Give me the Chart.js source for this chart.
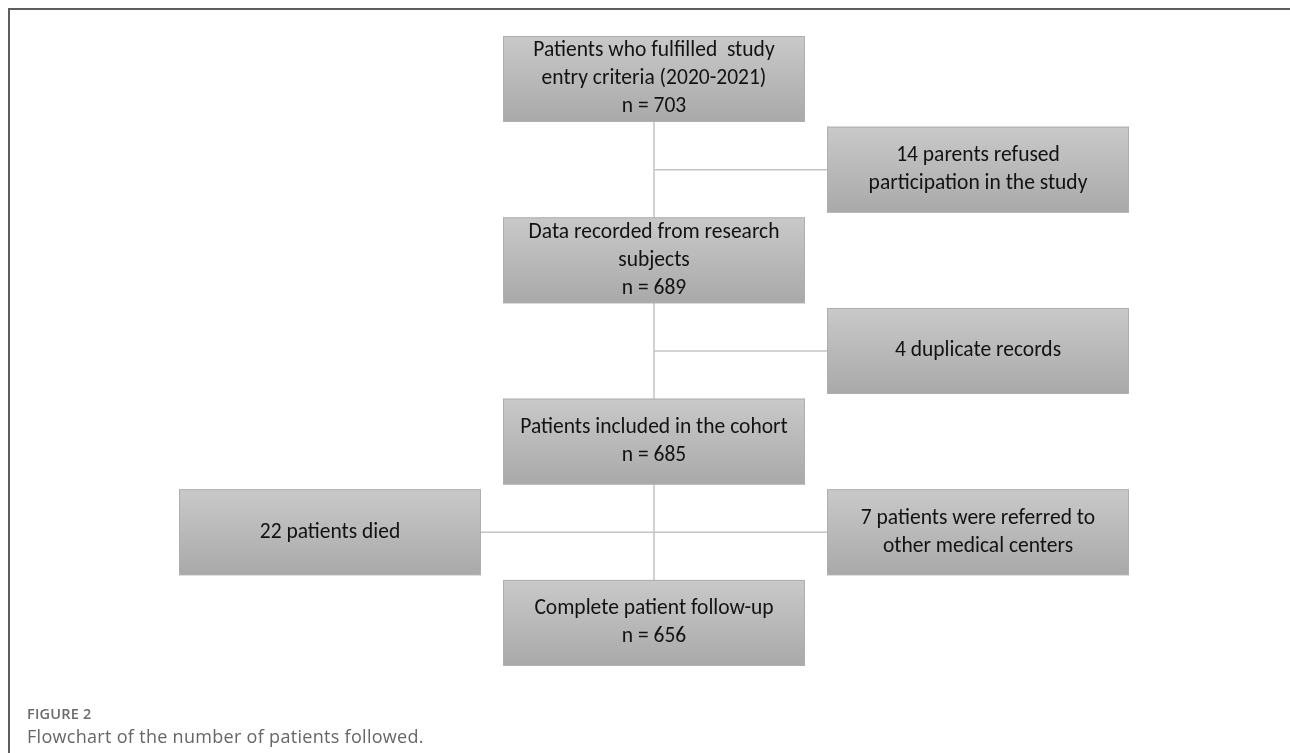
<!DOCTYPE html>
<html>
<head>
<meta charset="utf-8">
<script src="https://cdn.jsdelivr.net/npm/chart.js@4.4.1/dist/chart.umd.min.js"></script>
<style>
  body { margin: 0; background: #fff; overflow: hidden; }
  #wrap { position: relative; width: 1290px; height: 753px; }
  #flow { position: absolute; left: 0; top: 0; }
  .frame { position: absolute; left: 8px; top: 8px; width: 1300px; height: 760px;
           border-top: 2px solid #5e5e5e; border-left: 2px solid #5e5e5e; }
  .fig-label { position: absolute; left: 27px; top: 707px; font: 600 14.5px/1 "Open Sans", sans-serif;
               color: #6b6b6b; letter-spacing: 0.2px; }
  .fig-caption { position: absolute; left: 27px; top: 727px; font: 400 18px/1 "Open Sans", sans-serif;
                 color: #666; letter-spacing: 0.3px; }
</style>
</head>
<body>
<div id="wrap">
  <div class="frame"></div>
  <canvas id="flow" width="1290" height="753"></canvas>
  <div class="fig-label">FIGURE 2</div>
  <div class="fig-caption">Flowchart of the number of patients followed.</div>
</div>
<script>
// stages of the cohort, top to bottom
const stageTitles = [
  ["Patients who fulfilled  study", "entry criteria (2020-2021)"],
  ["Data recorded from research", "subjects"],
  ["Patients included in the cohort"],
  ["Complete patient follow-up"]
];
const stageCounts = [703, 689, 685, 656];

// patients dropped between stages
const exclusionCounts = [14, 4, 22, 7];
const exclusionReasons = [
  ["parents refused", "participation in the study"],
  ["duplicate records"],
  ["patients died"],
  ["patients were referred to", "other medical centers"]
];
const exclusionAfterStage = [0, 1, 2, 2];
const exclusionSide = [1, 1, -1, 1];

// layout in column / row units
const BOX_W = 0.932;
const BOX_H = 0.474;

const nodes = [];
stageTitles.forEach((t, i) => {
  nodes.push({ col: 0, row: i, lines: [...t, "n = " + stageCounts[i]] });
});
exclusionCounts.forEach((n, i) => {
  const r = exclusionReasons[i];
  nodes.push({
    col: exclusionSide[i],
    row: exclusionAfterStage[i] + 0.5,
    lines: [n + " " + r[0], ...r.slice(1)]
  });
});

const lineStyle = { showLine: true, pointRadius: 0, borderColor: "#c4c4c4", borderWidth: 1.5 };
const datasets = [
  { ...lineStyle, data: [{ x: 0, y: 0 }, { x: 0, y: stageTitles.length - 1 }] }
];
exclusionCounts.forEach((n, i) => {
  const row = exclusionAfterStage[i] + 0.5;
  datasets.push({ ...lineStyle, data: [{ x: 0, y: row }, { x: exclusionSide[i], y: row }] });
});

const boxes = {
  id: "boxes",
  afterDatasetsDraw(chart) {
    const { ctx, scales: { x, y } } = chart;
    ctx.save();
    nodes.forEach(n => {
      const l = x.getPixelForValue(n.col - BOX_W / 2);
      const r = x.getPixelForValue(n.col + BOX_W / 2);
      const t = y.getPixelForValue(n.row - BOX_H / 2);
      const b = y.getPixelForValue(n.row + BOX_H / 2);
      const g = ctx.createLinearGradient(0, t, 0, b);
      g.addColorStop(0, "#c9c9c9");
      g.addColorStop(1, "#a9a9a9");
      ctx.fillStyle = g;
      ctx.fillRect(l, t, r - l, b - t);
      ctx.strokeStyle = "#b0b0b0";
      ctx.lineWidth = 1;
      ctx.strokeRect(l + 0.5, t + 0.5, r - l - 1, b - t - 1);

      ctx.fillStyle = "#121212";
      ctx.font = "21.5px Carlito, Lato, sans-serif";
      ctx.textAlign = "center";
      ctx.textBaseline = "middle";
      const cx = (l + r) / 2, cy = (t + b) / 2, lh = 28;
      n.lines.forEach((s, k) => {
        ctx.fillText(s, cx, cy + (k - (n.lines.length - 1) / 2) * lh);
      });
    });
    ctx.restore();
  }
};

new Chart(document.getElementById("flow"), {
  type: "scatter",
  data: { datasets },
  options: {
    responsive: false,
    animation: false,
    layout: { padding: 0 },
    plugins: { legend: { display: false }, tooltip: { enabled: false } },
    scales: {
      x: { type: "linear", display: false, min: -2.01852, max: 1.96296 },
      y: { type: "linear", display: false, reverse: true, min: -0.4357, max: 3.7176 }
    }
  },
  plugins: [boxes]
});
</script>
</body>
</html>
